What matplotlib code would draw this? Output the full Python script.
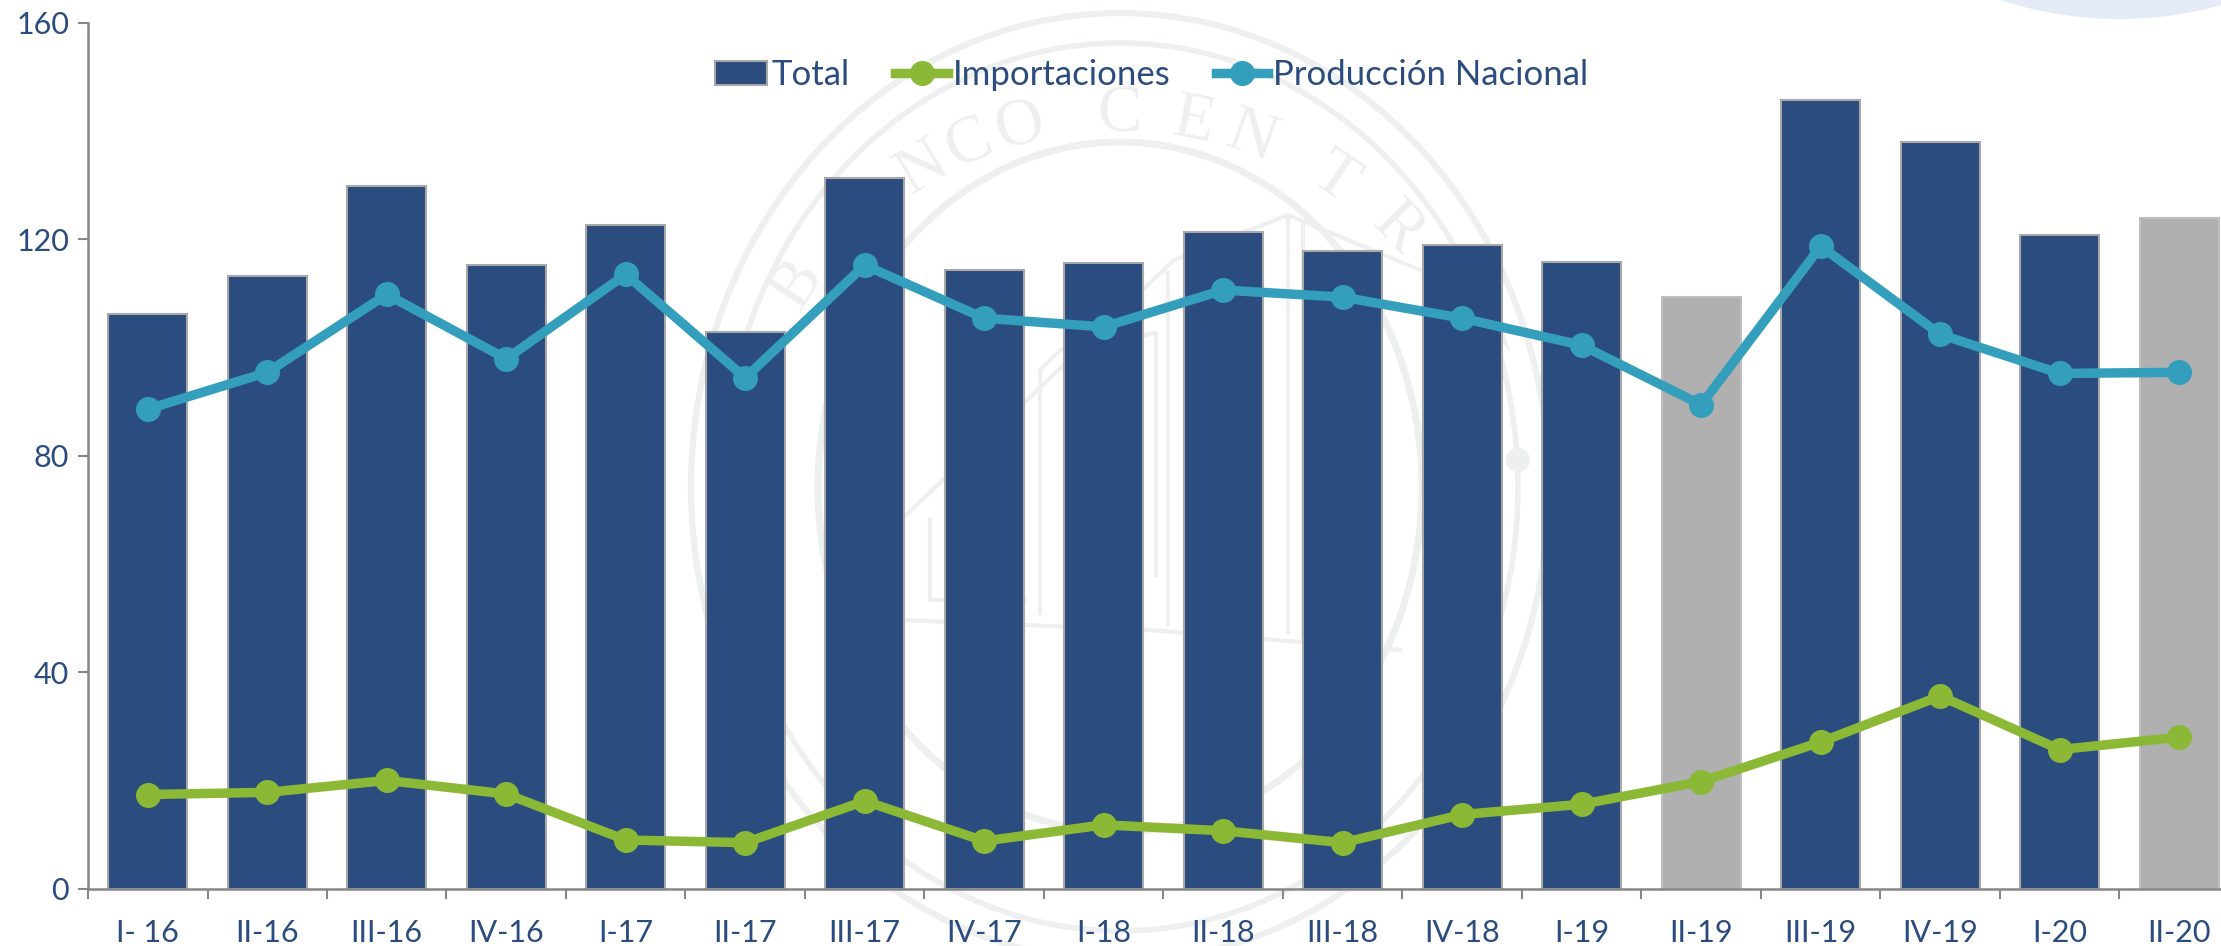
import numpy as np
import matplotlib.pyplot as plt
from matplotlib.patches import Circle, Ellipse, Rectangle
from matplotlib.lines import Line2D
from matplotlib.ticker import FixedLocator, NullFormatter

W, H = 2221, 946

periodos = ['I- 16', 'II-16', 'III-16', 'IV-16', 'I-17', 'II-17', 'III-17', 'IV-17', 'I-18',
            'II-18', 'III-18', 'IV-18', 'I-19', 'II-19', 'III-19', 'IV-19', 'I-20', 'II-20']
total = [106.1, 113.2, 129.8, 115.3, 122.6, 102.9, 131.3, 114.3, 115.6,
         121.3, 117.8, 119.0, 115.8, 109.3, 145.7, 138.0, 120.8, 124.0]
importaciones = [17.4, 17.8, 20.0, 17.5, 9.0, 8.5, 16.2, 8.8, 11.8,
                 10.7, 8.5, 13.7, 15.6, 19.8, 27.1, 35.6, 25.7, 28.0]
produccion = [88.6, 95.4, 109.8, 97.9, 113.5, 94.4, 115.2, 105.4, 103.8,
              110.6, 109.3, 105.4, 100.4, 89.4, 118.7, 102.4, 95.2, 95.4]
barras_grises = ['II-19', 'II-20']
yticks = [0, 40, 80, 120, 160]

AZUL = '#2B4C7E'
GRIS = '#B0B0B0'
BORDE = '#A8A8A8'
VERDE = '#8BB935'
TEAL = '#349FBC'
EJE = '#868686'
SELLO = '#EDF0EE'

plt.rcParams['font.family'] = ['Lato', 'DejaVu Sans']

fig = plt.figure(figsize=(W / 100, H / 100), dpi=100, facecolor='white')

# capa de fondo en pixeles: sello de agua y circulo de la esquina
bg = fig.add_axes([0, 0, 1, 1], zorder=0)
bg.set_xlim(0, W)
bg.set_ylim(H, 0)
bg.axis('off')
bg.add_patch(Circle((2119, -363), 382, color='#E4EAF6', lw=0))
cx, cy = 1120, 487
for rx, ry, lw in [(429, 474, 4.5), (398, 444, 4), (302, 345, 5)]:
    bg.add_patch(Ellipse((cx, cy), 2 * rx, 2 * ry, fill=False, ec=SELLO, lw=lw))

# edificio del sello, solo se ve entre barras
trazos = [[(904, 517), (1174, 260), (1288, 215), (1420, 270)],
          [(1288, 215), (1288, 632)],
          [(1303, 221), (1303, 636)],
          [(1168, 273), (1168, 624)],
          [(1040, 613), (1040, 370), (1060, 350), (1156, 333), (1156, 575)],
          [(930, 520), (930, 600), (1025, 600)],
          [(900, 620), (1150, 630), (1400, 650)]]
for trazo in trazos:
    xs, ys = zip(*trazo)
    bg.plot(xs, ys, color=SELLO, lw=3)
bg.add_patch(Ellipse((1518, 460), 24, 24, color=SELLO, lw=0))

# letras del sello sobre el arco
letras_sello = list('BANCOCENTRAL')
angulos = [147, 134, 121, 113, 105, 90, 79, 70, 56, 44, 32, 20]
for letra, ang in zip(letras_sello, angulos):
    a = np.radians(ang)
    bg.text(cx + 385 * np.cos(a), cy - 372 * np.sin(a), letra, color=SELLO, fontsize=48,
            family='Liberation Serif', rotation=ang - 90, ha='center', va='center')

# ejes: el ultimo periodo queda cortado por el borde de la figura
x0, x1 = 88, 88 + 18 * 119.5
y0, y1 = 888.7, 22.7
ax = fig.add_axes([x0 / W, 1 - y0 / H, (x1 - x0) / W, (y0 - y1) / H], zorder=1)
ax.patch.set_alpha(0)

x = np.arange(len(periodos))
colores = [GRIS if p in barras_grises else AZUL for p in periodos]
bordes = ['#BEBEBE' if p in barras_grises else BORDE for p in periodos]
ax.bar(x, total, width=0.665, color=colores, edgecolor=bordes, linewidth=1.5, zorder=2)
ax.plot(x, importaciones, color=VERDE, lw=6.8, marker='o', ms=17, zorder=3, clip_on=False)
ax.plot(x, produccion, color=TEAL, lw=6.8, marker='o', ms=17, zorder=4, clip_on=False)

ax.set_xlim(-0.5, 17.5)
ax.set_ylim(0, 160)
ax.set_yticks(yticks)
ax.set_xticks(x)
ax.set_xticklabels(periodos)
ax.xaxis.set_minor_locator(FixedLocator(np.arange(-0.5, 18, 1)))
ax.xaxis.set_minor_formatter(NullFormatter())
ax.tick_params(axis='x', which='major', length=0, pad=22, labelsize=22, labelcolor=AZUL)
ax.tick_params(axis='x', which='minor', length=7.5, width=1.5, color=EJE)
ax.tick_params(axis='y', length=7.5, width=1.5, color=EJE, pad=6, labelsize=22, labelcolor=AZUL)
ax.spines['top'].set_visible(False)
ax.spines['right'].set_visible(False)
for lado in ['left', 'bottom']:
    ax.spines[lado].set_color(EJE)
    ax.spines[lado].set_linewidth(1.8)

handles = [Rectangle((0, 0), 1, 1, fc=AZUL, ec=BORDE, lw=1.5),
           Line2D([], [], color=VERDE, lw=6.8, marker='o', ms=17),
           Line2D([], [], color=TEAL, lw=6.8, marker='o', ms=17)]
fig.legend(handles, ['Total', 'Importaciones', 'Producción Nacional'], ncol=3, frameon=False,
           loc='center', bbox_to_anchor=(1151.5 / W, 1 - 75 / H), fontsize=25, labelcolor=AZUL,
           handlelength=1.5, handletextpad=0.15, columnspacing=1.31, borderpad=0)

fig.savefig('out.png', dpi=100)
